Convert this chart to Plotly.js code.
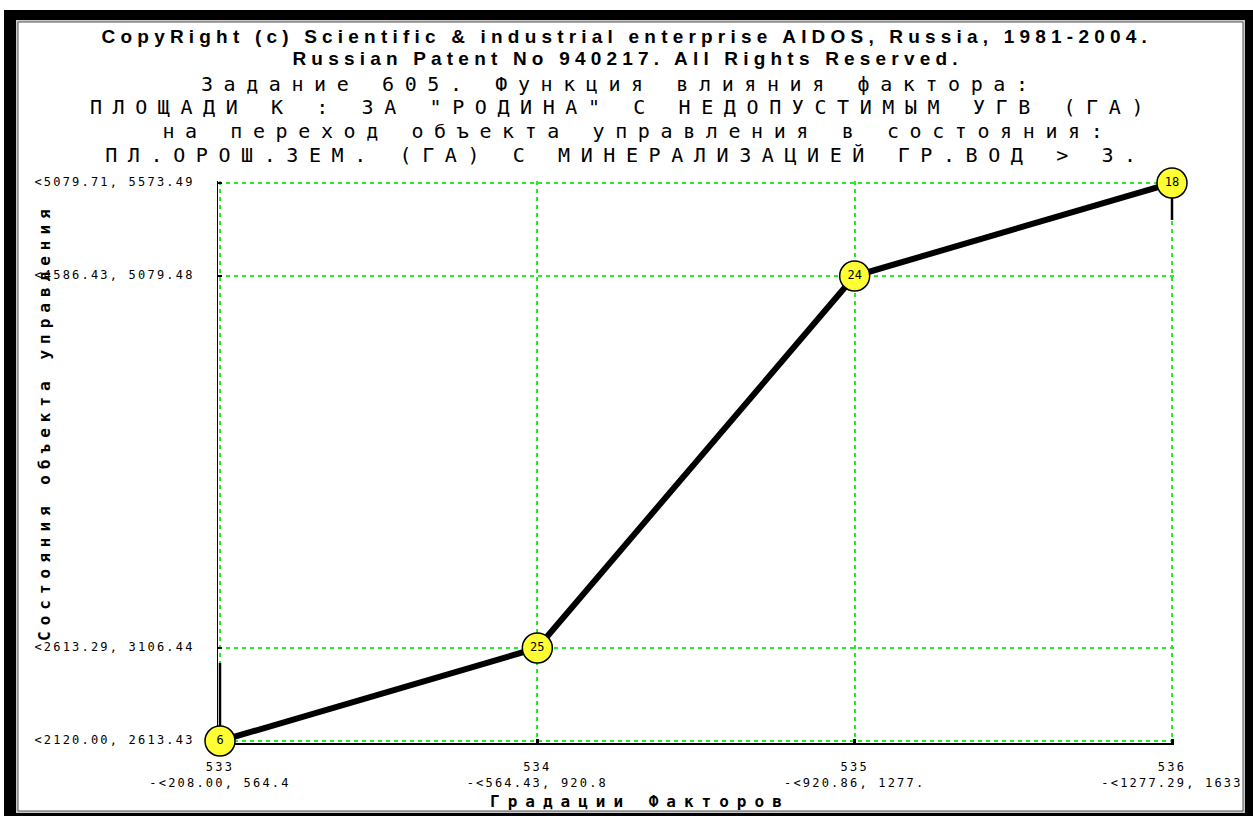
<!DOCTYPE html>
<html>
<head>
<meta charset="utf-8">
<script src="https://cdn.plot.ly/plotly-3.0.1.min.js"></script>
<style>
  html, body { margin: 0; padding: 0; background: #ffffff; }
  #chart { width: 1253px; height: 816px; }
  g.annotation[data-index="0"] text, g.annotation[data-index="1"] text { letter-spacing: 5.2px; }
  g.annotation[data-index="2"] text, g.annotation[data-index="3"] text,
  g.annotation[data-index="4"] text, g.annotation[data-index="5"] text { letter-spacing: 10.6px; }
  g.annotation[data-index="6"] text { letter-spacing: 6px; }
  g.annotation[data-index="7"] text { letter-spacing: 8px; }
  .ytick text, .xtick text { letter-spacing: 2.2px; }
</style>
</head>
<body>
<div id="chart"></div>
<script>
// ---- data ----
const gradations = [533, 534, 535, 536];                       // factor gradations (x)
const stateLevels = [2120.00, 2613.29, 4586.43, 5079.71];      // state interval starts (y)
const pointLabels = ['6', '25', '24', '18'];                   // numbers inside markers
const xIntervals = ['-<208.00, 564.4', '-<564.43, 920.8', '-<920.86, 1277.', '-<1277.29, 1633'];
const yTickText = ['<2120.00, 2613.43', '<2613.29, 3106.44', '<4586.43, 5079.48', '<5079.71, 5573.49'];
const barUp = [414, 0, 0, 0];      // black vertical segments above points
const barDown = [0, 0, 0, 196];    // black vertical segments below points

const headerLines = [
  'CopyRight (c) Scientific & industrial enterprise AIDOS, Russia, 1981-2004.',
  'Russian Patent No 940217. All Rights Reserved.'
];
const titleLines = [
  'Задание 605. Функция влияния фактора:',
  'ПЛОЩАДИ К : ЗА "РОДИНА" С НЕДОПУСТИМЫМ УГВ (ГА)',
  'на переход объекта управления в состояния:',
  'ПЛ.ОРОШ.ЗЕМ. (ГА) С МИНЕРАЛИЗАЦИЕЙ ГР.ВОД > 3.'
];
const xTitle = 'Градации Факторов';
const yTitle = 'Состояния объекта управления';

const xTickText = gradations.map((g, i) => g + '<br>' + xIntervals[i]);

// ---- layout helpers (pixel -> paper) ----
// plot area is padded by 2px on each side so that edge grid lines are kept
const W = 1253, H = 816, L = 218, R = 79, T = 181, B = 73;
const PW = W - L - R, PH = H - T - B;
const px = x => (x - L) / PW;
const py = y => (H - B - y) / PH;
const xPad = 2 * (gradations[3] - gradations[0]) / (PW - 4);
const yPad = 2 * (stateLevels[3] - stateLevels[0]) / (PH - 4);

const mono = 'DejaVu Sans Mono, monospace';

// vertical interval segments, drawn first so markers sit on top
const segTrace = {
  x: gradations,
  y: stateLevels,
  mode: 'markers',
  marker: { size: 1, opacity: 0 },
  error_y: { type: 'data', symmetric: false, array: barUp, arrayminus: barDown,
             color: '#000000', thickness: 2.5, width: 0 },
  cliponaxis: false,
  hoverinfo: 'skip'
};

const mainTrace = {
  x: gradations,
  y: stateLevels,
  mode: 'lines+markers+text',
  text: pointLabels,
  textposition: 'middle center',
  textfont: { family: mono, size: 12, color: '#000000' },
  line: { color: '#000000', width: 6 },
  marker: { size: 30, color: '#ffff33', line: { color: '#000000', width: 1.5 } },
  cliponaxis: false,
  hoverinfo: 'x+y'
};

const annotations = [];
const headerY = [36, 58];
headerLines.forEach((t, i) => annotations.push({
  text: t, xref: 'paper', yref: 'paper', x: px(627), y: py(headerY[i]),
  xanchor: 'center', yanchor: 'middle', showarrow: false,
  font: { family: 'Liberation Sans, Arial, sans-serif', size: 19, color: '#000', weight: 'bold' }
}));
const titleY = [84, 107, 131, 155];
const titleX = [620, 622, 638, 626];
titleLines.forEach((t, i) => annotations.push({
  text: t, xref: 'paper', yref: 'paper', x: px(titleX[i]), y: py(titleY[i]),
  xanchor: 'center', yanchor: 'middle', showarrow: false,
  font: { family: mono, size: 20, color: '#000' }
}));
annotations.push({
  text: yTitle, xref: 'paper', yref: 'paper', x: px(44), y: py(422), textangle: -90,
  xanchor: 'center', yanchor: 'middle', showarrow: false,
  font: { family: mono, size: 16, color: '#000', weight: 'bold' }
});
annotations.push({
  text: xTitle, xref: 'paper', yref: 'paper', x: px(640), y: py(801),
  xanchor: 'center', yanchor: 'middle', showarrow: false,
  font: { family: mono, size: 16, color: '#000', weight: 'bold' }
});

const gridStyle = { showgrid: true, gridcolor: '#22ee22', gridwidth: 2, griddash: '4px,4px' };

const layout = {
  width: W, height: H,
  margin: { l: L, r: R, t: T, b: B, pad: 0 },
  paper_bgcolor: '#ffffff',
  plot_bgcolor: 'rgba(0,0,0,0)',
  showlegend: false,
  xaxis: Object.assign({
    range: [gradations[0] - xPad, gradations[3] + xPad],
    tickmode: 'array', tickvals: gradations, ticktext: xTickText,
    zeroline: false, showline: true, linecolor: '#000000', linewidth: 2,
    ticks: 'inside', ticklen: 4, tickwidth: 3, tickcolor: '#000000',
    ticklabelstandoff: 12, layer: 'below traces',
    tickfont: { family: mono, size: 12, color: '#000' }
  }, gridStyle),
  yaxis: Object.assign({
    range: [stateLevels[0] - yPad, stateLevels[3] + yPad],
    tickmode: 'array', tickvals: stateLevels, ticktext: yTickText,
    zeroline: false, showline: true, linecolor: '#000000', linewidth: 1,
    ticks: 'inside', ticklen: 4, tickwidth: 2, tickcolor: '#000000',
    ticklabelstandoff: 20, ticklabelshift: -1, layer: 'below traces',
    tickfont: { family: mono, size: 12, color: '#000' }
  }, gridStyle),
  shapes: [
    { type: 'rect', xref: 'paper', yref: 'paper', layer: 'below',
      x0: px(4), x1: px(1253), y0: py(816), y1: py(10),
      fillcolor: '#000000', line: { width: 0 } },
    { type: 'rect', xref: 'paper', yref: 'paper', layer: 'below',
      x0: px(16), x1: px(1245), y0: py(813), y1: py(20),
      fillcolor: '#c8c8c8', line: { width: 0 } },
    { type: 'rect', xref: 'paper', yref: 'paper', layer: 'below',
      x0: px(18), x1: px(1243), y0: py(811), y1: py(22),
      fillcolor: '#ffffff', line: { color: '#555555', width: 1 } }
  ],
  annotations: annotations
};

Plotly.newPlot('chart', [segTrace, mainTrace], layout, { displayModeBar: false, staticPlot: true });
</script>
</body>
</html>
